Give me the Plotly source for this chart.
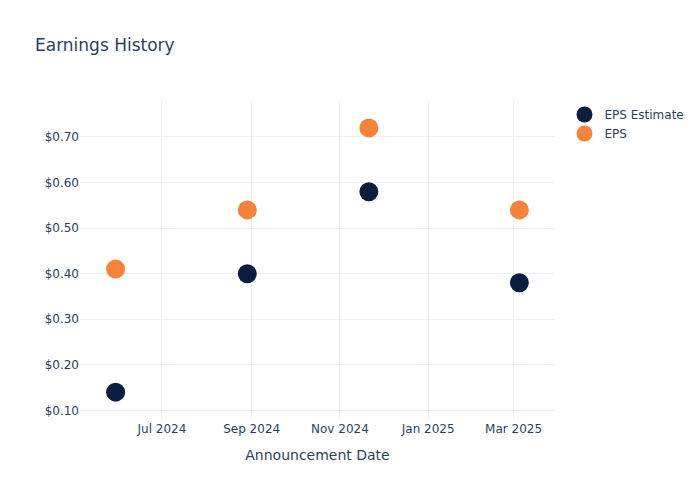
import plotly.graph_objects as go

# announcement dates and earnings per share
dates = ["2024-05-30", "2024-08-29", "2024-11-21", "2025-03-05"]
eps_estimate = [0.14, 0.40, 0.58, 0.38]
eps_actual = [0.41, 0.54, 0.72, 0.54]

fig = go.Figure()

fig.add_trace(
    go.Scatter(
        x=dates,
        y=eps_estimate,
        mode="markers",
        name="EPS Estimate",
        marker=dict(color="#0b1e40", size=19),
    )
)
fig.add_trace(
    go.Scatter(
        x=dates,
        y=eps_actual,
        mode="markers",
        name="EPS",
        marker=dict(color="#f7823a", size=19),
    )
)

# page has an 8px body margin, so shift everything up/left by 8px
fig.update_layout(
    template="plotly_white",
    width=700,
    height=500,
    margin=dict(l=72, r=153, t=92, b=88),
    title=dict(text="Earnings History", x=27 / 700, xanchor="left",
               y=1 - 37 / 500, yanchor="middle"),
    font=dict(family="DejaVu Sans, sans-serif"),
)
fig.update_xaxes(title_text="Announcement Date", tickformat="%b %Y", dtick="M2")
fig.update_yaxes(tickformat="$.2f", dtick=0.1)

fig.write_html("out.html")
